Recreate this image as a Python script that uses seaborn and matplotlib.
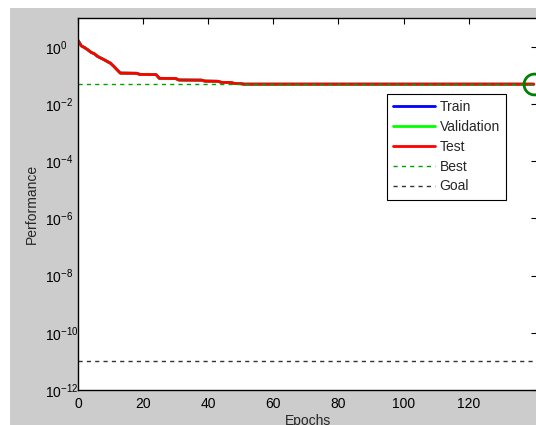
import matplotlib
matplotlib.use("Agg")
import matplotlib.pyplot as plt
from matplotlib.patches import Rectangle
from matplotlib.lines import Line2D
import seaborn as sns
import pandas as pd

# ---- data ----
epochs = [0, 1, 2, 3, 4, 5, 6, 7, 8, 9, 10, 11, 12, 13, 18, 19, 24, 25,
          30, 31, 38, 39, 43, 44, 47, 48, 50, 51, 140]
train_perf = [1.7, 1.1, 0.95, 0.8, 0.65, 0.58, 0.47, 0.41, 0.36, 0.31, 0.27,
              0.21, 0.16, 0.122, 0.12, 0.11, 0.108, 0.080, 0.079, 0.070,
              0.069, 0.064, 0.063, 0.058, 0.057, 0.053, 0.052, 0.050, 0.050]
val_perf = [1.7, 1.1, 0.95, 0.8, 0.66, 0.58, 0.47, 0.41, 0.36, 0.31, 0.27,
            0.21, 0.16, 0.122, 0.12, 0.11, 0.108, 0.080, 0.079, 0.070,
            0.069, 0.064, 0.063, 0.058, 0.057, 0.053, 0.052, 0.050, 0.050]
test_perf = [1.7, 1.1, 0.95, 0.8, 0.65, 0.58, 0.47, 0.41, 0.36, 0.31, 0.27,
             0.21, 0.16, 0.122, 0.12, 0.11, 0.108, 0.080, 0.079, 0.070,
             0.069, 0.064, 0.063, 0.058, 0.057, 0.053, 0.052, 0.050, 0.050]
best_epoch = 140
best_perf = 0.050
goal = 1e-11
xticks = [0, 20, 40, 60, 80, 100, 120]
yexps = [0, -2, -4, -6, -8, -10, -12]

sns.set_style("white")
plt.rcParams['font.family'] = ['Liberation Sans', 'DejaVu Sans']
plt.rcParams['mathtext.fontset'] = 'custom'
plt.rcParams['mathtext.rm'] = 'Liberation Sans'

W, H = 536, 425
fig = plt.figure(figsize=(W / 100, H / 100), dpi=100, facecolor='white')
fig.patches.append(Rectangle((10 / W, 0), 1, (H - 8) / H, transform=fig.transFigure,
                             facecolor='#cccccc', edgecolor='none', zorder=-10))
ax = fig.add_axes([78 / W, (H - 390) / H, (537 - 78) / W, (390 - 18.4) / H])
ax.set_facecolor('white')

df = pd.DataFrame({'Epochs': epochs, 'Train': train_perf,
                   'Validation': val_perf, 'Test': test_perf})
sns.lineplot(data=df, x='Epochs', y='Train', ax=ax, color='#0000ff', lw=2)
sns.lineplot(data=df, x='Epochs', y='Validation', ax=ax, color='#00ff00', lw=2)
sns.lineplot(data=df, x='Epochs', y='Test', ax=ax, color='#ff0000', lw=2)
ax.axhline(best_perf, color='#00a000', ls=(0, (3, 3)), lw=1)
ax.axhline(goal, color='#333333', ls=(0, (3, 3)), lw=1)
ax.plot([best_epoch], [best_perf], 'o', ms=15, mfc='none', mec='#008000', mew=2,
        clip_on=False)

ax.set_yscale('log')
ax.set_ylim(1e-12, 10)
ax.set_xlim(0, 141)
ax.set_xticks(xticks)
ax.set_xticklabels([str(t) for t in xticks], fontsize=10)
ax.set_yticks([10.0 ** e for e in yexps])
ax.set_yticklabels([f'$\\mathdefault{{10^{{{e}}}}}$' for e in yexps], fontsize=10, ha='left')
ax.minorticks_off()
ax.tick_params(direction='in', length=4, width=0.8, top=True, right=True, colors='black')
ax.tick_params(axis='y', pad=24)
ax.tick_params(axis='x', pad=5)
for s in ax.spines.values():
    s.set_color('black')
    s.set_linewidth(1)
ax.set_xlabel('Epochs', fontsize=10, labelpad=2)
ax.set_ylabel('Performance', fontsize=10, labelpad=4)

handles = [Line2D([], [], color='#0000ff', lw=2),
           Line2D([], [], color='#00ff00', lw=2),
           Line2D([], [], color='#ff0000', lw=2),
           Line2D([], [], color='#00a000', lw=1, ls=(0, (3, 3))),
           Line2D([], [], color='#333333', lw=1, ls=(0, (3, 3)))]
leg = ax.legend(handles, ['Train', 'Validation', 'Test', 'Best', 'Goal'],
                loc='upper left', bbox_to_anchor=(0.673, 0.797), fontsize=10,
                frameon=True, fancybox=False, edgecolor='black', framealpha=1,
                handlelength=3.0, handletextpad=0.35, labelspacing=0.42,
                borderpad=0.45, borderaxespad=0)
leg.get_frame().set_linewidth(0.8)

fig.savefig('out.png', dpi=100, facecolor=fig.get_facecolor())
